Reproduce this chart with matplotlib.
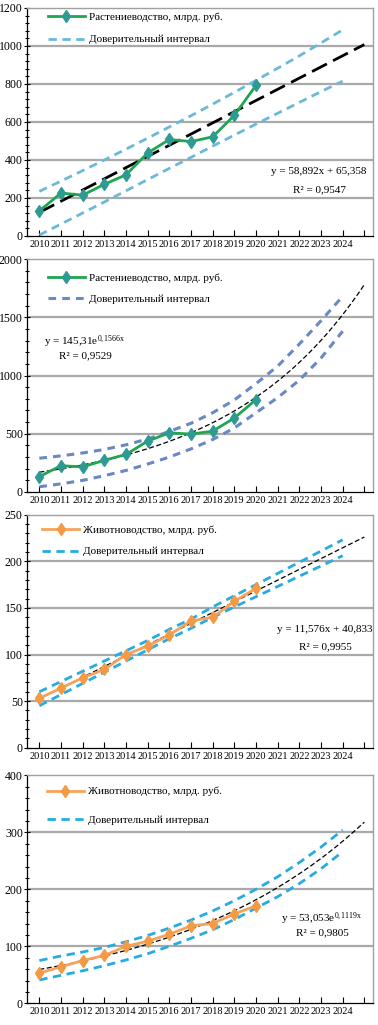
import numpy as np
import matplotlib
matplotlib.use('Agg')
import matplotlib.pyplot as plt

plt.rcParams['font.family'] = ['Liberation Serif', 'DejaVu Serif']
plt.rcParams['mathtext.fontset'] = 'custom'
plt.rcParams['mathtext.rm'] = 'Liberation Serif'
plt.rcParams['mathtext.it'] = 'Liberation Serif:italic'

# category axis: 2010..2024 plus one blank slot for the trend end
years = ['2010', '2011', '2012', '2013', '2014', '2015', '2016', '2017',
         '2018', '2019', '2020', '2021', '2022', '2023', '2024', '']

# observed values, bln rub (2010-2020)
crop = [132, 226, 215, 272, 322, 437, 508, 497, 522, 635, 793]
livestock = [53, 64, 75, 84, 100, 109, 121, 136, 140, 157, 171]

# confidence bands (2010-2024)
crop_lin_upper = [235, 289, 344, 400, 457, 515, 574, 633, 694, 756, 819, 883, 948, 1016, 1085]
crop_lin_lower = [5, 63, 121, 179, 238, 297, 356, 414, 473, 531, 589, 646, 703, 760, 815]
crop_exp_upper = [290, 310, 335, 365, 405, 455, 520, 590, 680, 790, 930, 1080, 1270, 1470, 1680]
crop_exp_lower = [45, 70, 100, 140, 185, 240, 300, 370, 450, 550, 680, 810, 960, 1150, 1380]
live_lin_upper = [60, 71, 82, 93, 104, 115, 127, 138, 151, 163, 175, 187, 199, 211, 223]
live_lin_lower = [45, 57, 69, 81, 93, 105, 117, 128, 140, 151, 162, 173, 184, 195, 206]
live_exp_upper = [75, 83, 90, 98, 108, 119, 132, 146, 162, 180, 200, 222, 247, 274, 304]
live_exp_lower = [41, 49, 57, 66, 76, 87, 100, 114, 129, 147, 167, 187, 210, 236, 266]

# trend coefficients shown on the chart
crop_lin = (58.892, 65.358)
crop_exp = (145.31, 0.1566)
live_lin = (11.576, 40.833)
live_exp = (53.053, 0.1119)

W, H = 378, 1025
fig = plt.figure(figsize=(W / 100, H / 100), dpi=100)

x_all = np.arange(1, len(years) + 1)
x_obs = x_all[:len(crop)]
x_band = x_all[:len(crop_lin_upper)]
xs = np.linspace(1, len(years), 200)


def panel(rect, ymax, major, series, s_label, line_c, mark_c, trend, kind,
          up, lo, band_c, band_lw, band_dash, trend_lw, trend_dash,
          eq, r2, eq_pos, leg_pos, leg_space):
    ax = fig.add_axes(rect)
    ax.set_xlim(0.43, 16.4)
    ax.set_ylim(0, ymax)
    for g in np.arange(major, ymax, major):
        ax.axhline(g, color='#a9a9a9', lw=1.6, zorder=0)
    ax.plot(x_band, up, color=band_c, lw=band_lw, dashes=band_dash,
            label='Доверительный интервал', zorder=2)
    ax.plot(x_band, lo, color=band_c, lw=band_lw, dashes=band_dash, zorder=2)
    if kind == 'lin':
        ty = trend[0] * xs + trend[1]
    else:
        ty = trend[0] * np.exp(trend[1] * xs)
    ax.plot(xs, ty, color='black', lw=trend_lw, dashes=trend_dash, zorder=3)
    ax.plot(x_obs, series, color=line_c, lw=2, marker='d', ms=6,
            mfc=mark_c, mec=mark_c, label=s_label, zorder=4)
    h, l = ax.get_legend_handles_labels()
    ax.legend(h[::-1], l[::-1], loc='upper left', bbox_to_anchor=leg_pos,
              frameon=False, fontsize=8, handlelength=3.3, handletextpad=0.4,
              borderpad=0, borderaxespad=0, labelspacing=leg_space, numpoints=1)
    ax.text(eq_pos[0], eq_pos[1], eq, transform=ax.transAxes, ha='center',
            va='center', fontsize=8)
    ax.text(eq_pos[0], eq_pos[2], r2, transform=ax.transAxes, ha='center',
            va='center', fontsize=8)

    ax.set_xticks(x_all)
    ax.set_xticklabels(years)
    ax.set_yticks(np.arange(0, ymax + 1, major))
    ax.set_yticks(np.arange(0, ymax + 1, major / 5), minor=True)
    ax.tick_params(axis='x', direction='in', length=4, width=0.8, pad=3,
                   labelsize=7.5)
    ax.tick_params(axis='y', which='both', direction='inout', length=4,
                   width=0.8, pad=1, labelsize=8.5)
    ax.tick_params(axis='y', which='minor', length=3)
    for s in ['left', 'bottom']:
        ax.spines[s].set_color('black')
        ax.spines[s].set_linewidth(0.9)
    for s in ['top', 'right']:
        ax.spines[s].set_color('#a0a0a0')
        ax.spines[s].set_linewidth(1.0)
    return ax


left = 27 / W
width = 346 / W

panel([left, 1 - 236 / H, width, 228 / H], 1200, 200, crop,
      'Растениеводство, млрд. руб.', '#1fa650', '#2e9a94', crop_lin, 'lin',
      crop_lin_upper, crop_lin_lower, '#6bb9d8', 2, (3, 2), 2, (6, 2.5),
      'y = 58,892x + 65,358', 'R² = 0,9547', (0.844, 0.281, 0.202),
      (0.061, 0.982), 1.15)

panel([left, 1 - 492 / H, width, 233 / H], 2000, 500, crop,
      'Растениеводство, млрд. руб.', '#1fa650', '#2e9a94', crop_exp, 'exp',
      crop_exp_upper, crop_exp_lower, '#6a88c4', 2.2, (2.5, 2), 0.9, (4, 2),
      'y = 145,31e$^{\\mathrm{0,1566x}}$', 'R² = 0,9529', (0.168, 0.644, 0.584),
      (0.061, 0.94), 1.0)

panel([left, 1 - 747.7 / H, width, 233 / H], 250, 50, livestock,
      'Животноводство, млрд. руб.', '#f5a35c', '#f39a44', live_lin, 'lin',
      live_lin_upper, live_lin_lower, '#27abe0', 2, (3, 2), 0.9, (4, 2),
      'y = 11,576x + 40,833', 'R² = 0,9955', (0.861, 0.509, 0.432),
      (0.044, 0.955), 1.05)

panel([left, 1 - 1003.3 / H, width, 228 / H], 400, 100, livestock,
      'Животноводство, млрд. руб.', '#f5a35c', '#f39a44', live_exp, 'exp',
      live_exp_upper, live_exp_lower, '#27abe0', 2, (3, 2), 0.9, (4, 2),
      'y = 53,053e$^{\\mathrm{0,1119x}}$', 'R² = 0,9805', (0.853, 0.370, 0.309),
      (0.058, 0.95), 1.7)

fig.savefig('out.png', dpi=100)
